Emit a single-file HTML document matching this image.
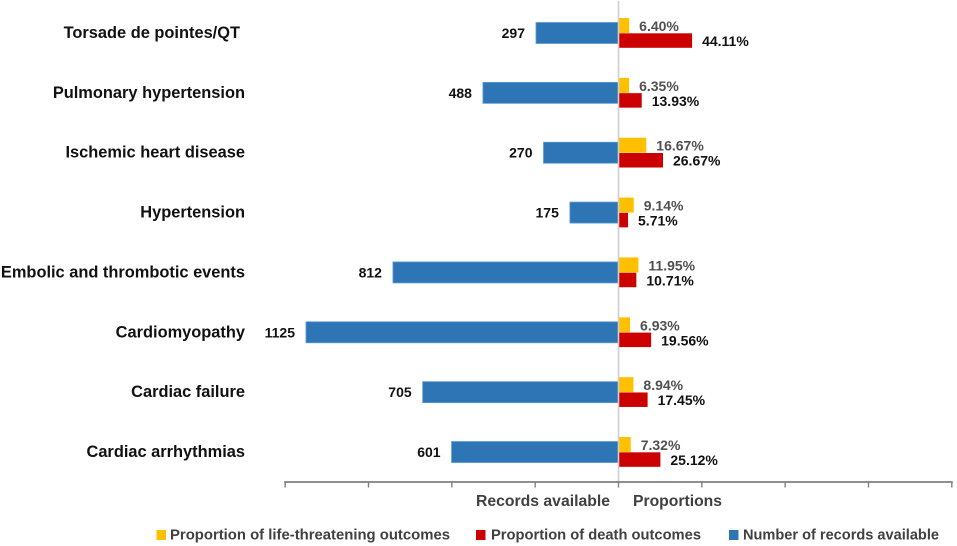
<!DOCTYPE html>
<html lang="en">
<head>
<meta charset="utf-8">
<title>Records available and outcome proportions by cardiovascular event</title>
<style>
html,body{margin:0;padding:0;background:#fff;}
svg{display:block;}
text{font-family:"Liberation Sans",Arial,sans-serif;font-weight:bold;}
</style>
</head>
<body>
<svg id="chart" width="957" height="546" viewBox="0 0 957 546" xmlns="http://www.w3.org/2000/svg">
  <rect x="0" y="0" width="957" height="546" fill="#ffffff"/>
  <g id="bars"></g>
  <line x1="618.5" y1="1" x2="618.5" y2="482" stroke="#cfcfcf" stroke-width="1.6"/>
  <g id="axis"></g>
  <text x="476" y="506" font-size="16" fill="#404040" textLength="134" lengthAdjust="spacingAndGlyphs">Records available</text>
  <text x="633" y="506" font-size="16" fill="#404040" textLength="89" lengthAdjust="spacingAndGlyphs">Proportions</text>
  <g>
    <rect x="156.5" y="530" width="9.5" height="10" fill="#ffc000"/>
    <text x="170" y="539.5" font-size="15" fill="#404040" textLength="280" lengthAdjust="spacingAndGlyphs">Proportion of life-threatening outcomes</text>
    <rect x="476" y="530" width="9.5" height="10" fill="#cc0000"/>
    <text x="491" y="539.5" font-size="15" fill="#404040" textLength="210" lengthAdjust="spacingAndGlyphs">Proportion of death outcomes</text>
    <rect x="729" y="530" width="9.5" height="10" fill="#2e75b6"/>
    <text x="743" y="539.5" font-size="15" fill="#404040" textLength="196" lengthAdjust="spacingAndGlyphs">Number of records available</text>
  </g>
</svg>
<script>
const categories = ["Torsade de pointes/QT","Pulmonary hypertension","Ischemic heart disease","Hypertension","Embolic and thrombotic events","Cardiomyopathy","Cardiac failure","Cardiac arrhythmias"];
const recordsAvailable = [297,488,270,175,812,1125,705,601];
const lifeThreateningPct = [6.40,6.35,16.67,9.14,11.95,6.93,8.94,7.32];
const deathPct = [44.11,13.93,26.67,5.71,10.71,19.56,17.45,25.12];
const axisTicks = [-1200,-900,-600,-300,0,300,600,900,1200];

const NS = "http://www.w3.org/2000/svg";
const ZERO_X = 618.5;
const PX_PER_RECORD = 312.5 / 1125;
const PX_PER_PCT = 1.668;
const ROW_TOP = 33;
const ROW_STEP = 59.86;
const AXIS_Y = 482;

const xRecords = v => ZERO_X - v * PX_PER_RECORD;
const xPct = v => ZERO_X + v * PX_PER_PCT;
const xTick = v => ZERO_X + v * PX_PER_RECORD;
const rowY = i => ROW_TOP + i * ROW_STEP;

function make(tag, attrs, text) {
  const el = document.createElementNS(NS, tag);
  for (const k in attrs) el.setAttribute(k, attrs[k]);
  if (text !== undefined) el.textContent = text;
  return el;
}

const barsG = document.getElementById("bars");
categories.forEach((name, i) => {
  const c = rowY(i);
  const slug = name.toLowerCase().replace(/[^a-z]+/g, "-");

  const label = make("text", {x: i === 0 ? 240 : 245, y: c + 5, "text-anchor": "end", "font-size": 16.4, fill: "#111111"}, name);
  
  
  barsG.appendChild(label);

  const bx = xRecords(recordsAvailable[i]);
  const blue = make("rect", {x: bx, y: c - 10.5, width: ZERO_X - bx, height: 21, fill: "#2e75b6", stroke: "#5b9bd5", "stroke-width": 0.8});
  
  
  barsG.appendChild(blue);

  const blueText = make("text", {x: bx - 11, y: c + 5, "text-anchor": "end", "font-size": 14, fill: "#111111"}, String(recordsAvailable[i]));
  
  
  barsG.appendChild(blueText);

  const yx = xPct(lifeThreateningPct[i]);
  const yellow = make("rect", {x: ZERO_X + 0.5, y: c - 15, width: yx - ZERO_X - 0.5, height: 15, fill: "#ffc000"});
  
  
  barsG.appendChild(yellow);

  const yellowText = make("text", {x: yx + 10, y: c - 2, "font-size": 14, fill: "#505050"}, lifeThreateningPct[i].toFixed(2) + "%");
  
  
  barsG.appendChild(yellowText);

  const rx = xPct(deathPct[i]);
  const red = make("rect", {x: ZERO_X + 0.5, y: c + 0.3, width: rx - ZERO_X - 0.5, height: 14.5, fill: "#cc0000"});
  
  
  barsG.appendChild(red);

  const redText = make("text", {x: rx + 10, y: c + 13, "font-size": 14, fill: "#111111"}, deathPct[i].toFixed(2) + "%");
  
  
  barsG.appendChild(redText);
});

const axisG = document.getElementById("axis");
const axisLine = make("line", {x1: xTick(axisTicks[0]) - 1, y1: AXIS_Y, x2: xTick(axisTicks[axisTicks.length - 1]) + 1, y2: AXIS_Y, stroke: "#7f7f7f", "stroke-width": 1.8});


axisG.appendChild(axisLine);
axisTicks.forEach(t => {
  const tick = make("line", {x1: xTick(t), y1: AXIS_Y, x2: xTick(t), y2: AXIS_Y + 5.5, stroke: "#7f7f7f", "stroke-width": 1.4});
  
  
  axisG.appendChild(tick);
});
</script>
</body>
</html>
